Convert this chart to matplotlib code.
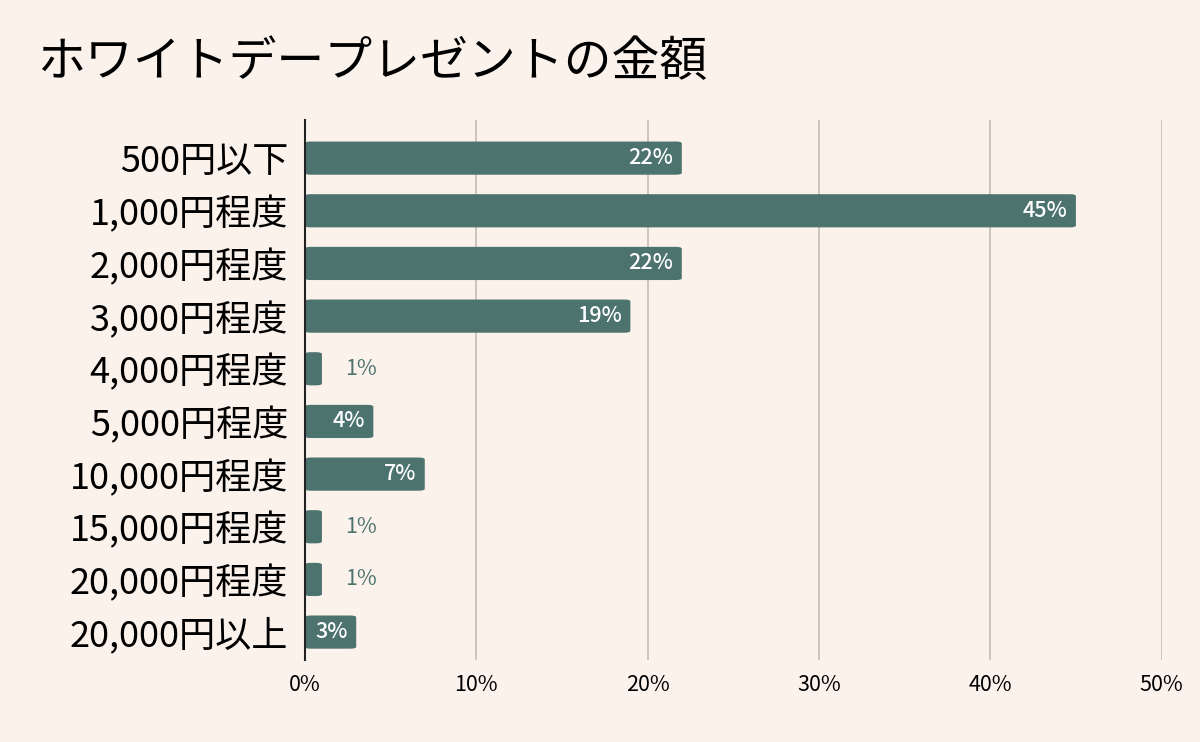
import matplotlib.pyplot as plt
from matplotlib.patches import FancyBboxPatch

plt.rcParams['font.family'] = ['Noto Sans CJK JP', 'DejaVu Sans']

categories = ['500円以下', '1,000円程度', '2,000円程度', '3,000円程度', '4,000円程度',
              '5,000円程度', '10,000円程度', '15,000円程度', '20,000円程度', '20,000円以上']
values = [22, 45, 22, 19, 1, 4, 7, 1, 1, 3]

bg = '#fbf2ec'
bar_color = '#4d736f'

fig = plt.figure(figsize=(12, 7.42), dpi=100, facecolor=bg)
ax = fig.add_axes([0.254, 0.1105, 0.714, 0.7275], facecolor=bg)

ypos = list(range(len(values)))
bars = ax.barh(ypos, values, height=0.63, color=bar_color)

# rounded corners
for b in bars:
    x, y = b.get_x(), b.get_y()
    w, h = b.get_width(), b.get_height()
    b.set_visible(False)
    ax.add_patch(FancyBboxPatch((x, y), w, h, boxstyle='round,pad=0,rounding_size=0.35',
                                mutation_aspect=0.1,
                                fc=bar_color, ec='none', zorder=2))

for yp, v in zip(ypos, values):
    if v >= 3:
        ax.annotate(f'{v}%', (v, yp), xytext=(-6, 0), textcoords='offset points',
                    ha='right', va='center', color='white', fontsize=15.5,
                    fontweight='medium')
    else:
        ax.annotate(f'{v}%', (v, yp), xytext=(17, 0), textcoords='offset points',
                    ha='left', va='center', color=bar_color, fontsize=15.5)

ax.set_xlim(0, 50)
ax.set_ylim(9.53, -0.72)
ax.set_xticks([0, 10, 20, 30, 40, 50])
ax.set_xticklabels([f'{t}%' for t in [0, 10, 20, 30, 40, 50]], fontsize=15.5)
ax.set_yticks(ypos)
ax.set_yticklabels(categories, fontsize=26)
ax.tick_params(axis='both', length=0)
ax.tick_params(axis='y', pad=12)
ax.tick_params(axis='x', pad=10)
ax.grid(axis='x', color='#c9c1bc', linewidth=1.3, zorder=0)
ax.set_axisbelow(True)
for s in ['top', 'right', 'bottom']:
    ax.spines[s].set_visible(False)
ax.spines['left'].set_color('#222222')
ax.spines['left'].set_linewidth(1.5)
ax.spines['left'].set_zorder(3)

fig.text(0.031, 0.916, 'ホワイトデープレゼントの金額', fontsize=34.5, va='center', ha='left')

plt.savefig('out.png', facecolor=bg)
